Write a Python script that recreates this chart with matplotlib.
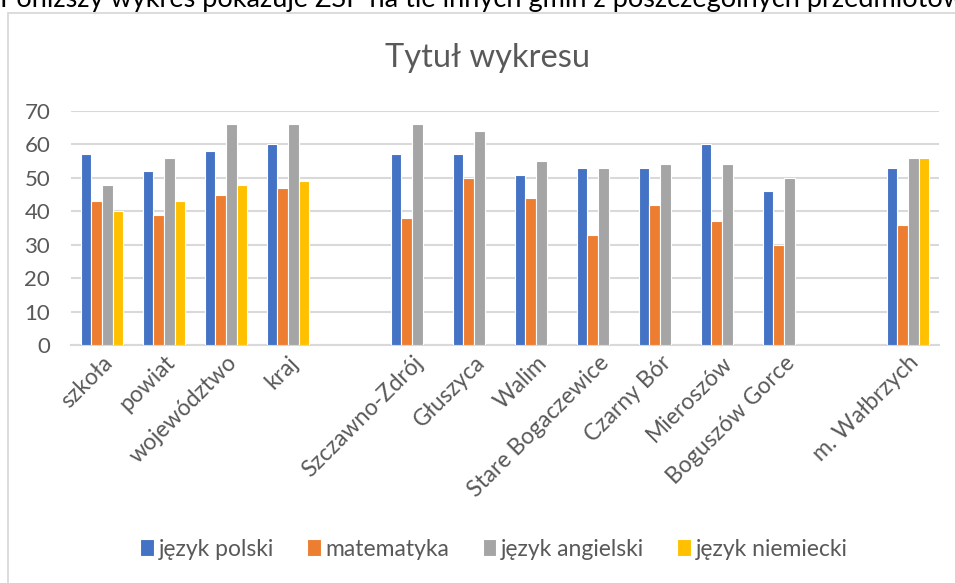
import matplotlib
matplotlib.use('Agg')
import matplotlib.pyplot as plt
from matplotlib.patches import Rectangle
import numpy as np

plt.rcParams['font.family'] = ['Lato', 'DejaVu Sans']

# dane
categories = ['szkoła', 'powiat', 'województwo', 'kraj', '',
              'Szczawno-Zdrój', 'Głuszyca', 'Walim', 'Stare Bogaczewice',
              'Czarny Bór', 'Mieroszów', 'Boguszów Gorce', '', 'm. Wałbrzych']
polski = [57, 52, 58, 60, np.nan, 57, 57, 51, 53, 53, 60, 46, np.nan, 53]
matematyka = [43, 39, 45, 47, np.nan, 38, 50, 44, 33, 42, 37, 30, np.nan, 36]
angielski = [48, 56, 66, 66, np.nan, 66, 64, 55, 53, 54, 54, 50, np.nan, 56]
niemiecki = [40, 43, 48, 49, np.nan, np.nan, np.nan, np.nan, np.nan, np.nan,
             np.nan, np.nan, np.nan, 56]

series = [
    ('język polski', polski, '#4472C4'),
    ('matematyka', matematyka, '#ED7D31'),
    ('język angielski', angielski, '#A5A5A5'),
    ('język niemiecki', niemiecki, '#FFC000'),
]

TXT = '#595959'
GRID = '#D9D9D9'

fig = plt.figure(figsize=(9.55, 5.83), dpi=100)
fig.patch.set_facecolor('white')

# ramka wykresu (przycięta z prawej i od dołu)
fig.patches.append(Rectangle((8 / 955, -0.1), 1.2, (583 - 13) / 583 + 0.1,
                             transform=fig.transFigure, facecolor='none',
                             edgecolor=GRID, lw=1.3))

# tekst nad wykresem (ucięty u góry)
fig.text(0.0, 1.0 - 7 / 583, 'Poniższy wykres pokazuje ZSP na tle innych gmin z poszczególnych przedmiotów',
         ha='left', va='baseline', fontsize=19.5, color='black')

ax = fig.add_axes([71 / 955, (583 - 345) / 583, (939 - 71) / 955, (345 - 111) / 583])

x = np.arange(len(categories))
w = 0.17
for i, (name, vals, c) in enumerate(series):
    ax.bar(x + (i - 1.5) * w, vals, width=w, color=c, edgecolor='white',
           lw=0.8, label=name, zorder=3)

ax.set_xlim(-0.5, len(categories) - 0.5)
ax.set_ylim(0, 70)
ax.set_yticks(range(0, 71, 10))
ax.yaxis.grid(True, color=GRID, lw=1.5, zorder=0)
ax.set_axisbelow(True)
for s in ['top', 'right', 'left']:
    ax.spines[s].set_visible(False)
ax.spines['bottom'].set_color(GRID)
ax.spines['bottom'].set_linewidth(1.5)
ax.tick_params(axis='both', length=0, colors=TXT)
ax.tick_params(axis='y', pad=15, labelsize=16)
ax.set_xticks(x)
ax.set_xticklabels(categories, rotation=45, ha='right', rotation_mode='anchor')
ax.tick_params(axis='x', pad=5, labelsize=16.5)

fig.text(487 / 955, 1 - 58 / 583, 'Tytuł wykresu', ha='center', va='center',
         fontsize=23.5, color=TXT)

fig.legend(loc='center', bbox_to_anchor=(494 / 955, 1 - 549 / 583), ncol=4,
           frameon=False, fontsize=16.5, labelcolor=TXT, handlelength=0.6,
           handleheight=0.7, handletextpad=0.2, columnspacing=1.45)

fig.savefig('out.png', dpi=100, facecolor='white')
